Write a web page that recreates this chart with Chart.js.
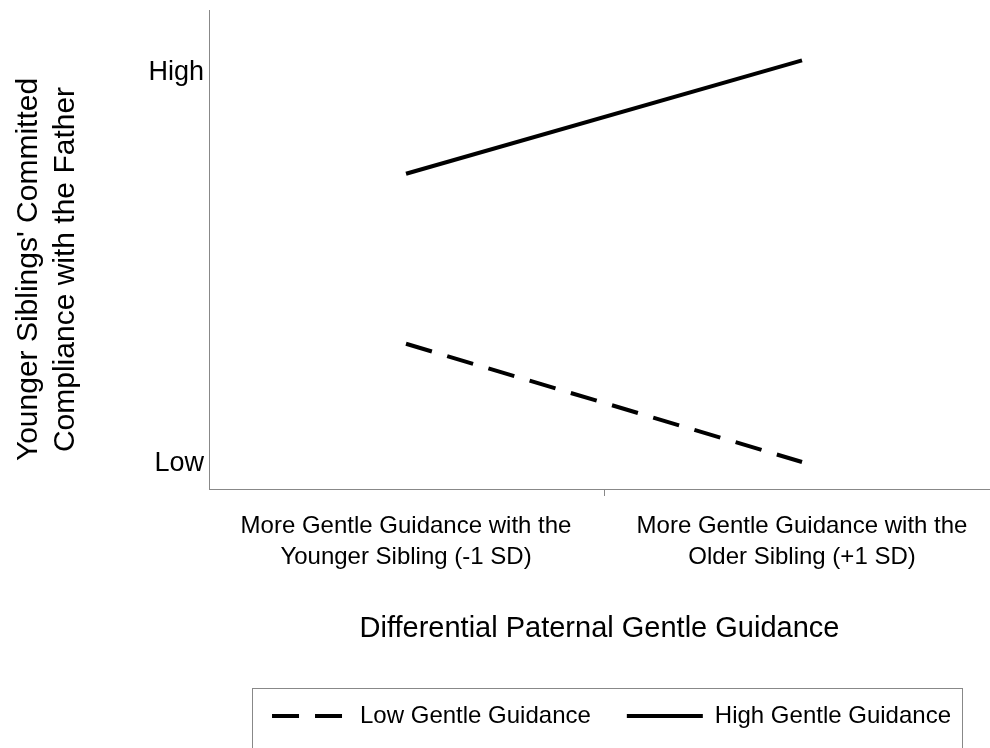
<!DOCTYPE html>
<html>
<head>
<meta charset="utf-8">
<script src="https://cdn.jsdelivr.net/npm/chart.js@4.4.0/dist/chart.umd.min.js"></script>
<style>
html, body { margin: 0; padding: 0; background: #fff; }
#wrap { width: 990px; height: 748px; }
</style>
</head>
<body>
<div id="wrap"><canvas id="myChart"></canvas></div>
<script>
const groupLabels = [
	['More Gentle Guidance with the', 'Younger Sibling (-1 SD)'],
	['More Gentle Guidance with the', 'Older Sibling (+1 SD)']
];
const seriesNames = ['Low Gentle Guidance', 'High Gentle Guidance'];
const lowGuidance = [2.23, 1.02];
const highGuidance = [3.97, 5.13];
const levelTicks = [1, 5];
const levelNames = ['Low', 'High'];
const xTitle = 'Differential Paternal Gentle Guidance';
const yTitle = ["Younger Siblings' Committed", 'Compliance with the Father'];

const axisGray = '#888888';
Chart.defaults.font.family = 'Arial, "Liberation Sans", sans-serif';
Chart.defaults.color = '#000';

function toPoints(values) {
	return values.map((v, i) => ({ x: i, y: v }));
}

// rotated two-line y title, centred a bit below the axis middle like the original
const yTitlePlugin = {
	id: 'yTitle',
	afterDraw(chart) {
		const ctx = chart.ctx;
		const cy = (chart.chartArea.top + chart.chartArea.bottom) / 2 + 20;
		const baselines = [37, 74];
		ctx.save();
		ctx.fillStyle = '#000';
		ctx.font = '30px Arial, "Liberation Sans", sans-serif';
		ctx.textAlign = 'center';
		ctx.textBaseline = 'alphabetic';
		yTitle.forEach((line, i) => {
			ctx.save();
			ctx.translate(baselines[i], cy);
			ctx.rotate(-Math.PI / 2);
			ctx.fillText(line, 0, 0);
			ctx.restore();
		});
		ctx.restore();
	}
};

// frame round the legend, legend nudged right a little
const legendFrame = {
	id: 'legendFrame',
	afterLayout(chart) {
		if (chart.legend) {
			chart.legend.left += 12;
			chart.legend.right += 12;
		}
	},
	afterDraw(chart) {
		const lg = chart.legend;
		if (!lg || !lg.legendHitBoxes.length) return;
		const first = lg.legendHitBoxes[0];
		const last = lg.legendHitBoxes[lg.legendHitBoxes.length - 1];
		const left = Math.round(first.left - 20) + 0.5;
		const right = Math.round(last.left + last.width + 11) + 0.5;
		const top = Math.round(lg.top + 20) + 0.5;
		const ctx = chart.ctx;
		ctx.save();
		ctx.strokeStyle = axisGray;
		ctx.lineWidth = 1;
		ctx.strokeRect(left, top, right - left, 200);
		ctx.restore();
	}
};

const myChart = new Chart(document.getElementById('myChart').getContext('2d'), {
	type: 'line',
	data: {
		datasets: [{
			label: seriesNames[0],
			data: toPoints(lowGuidance),
			borderColor: '#000',
			backgroundColor: '#000',
			borderWidth: 4,
			borderDash: [27, 16],
			pointRadius: 0,
			fill: false
		}, {
			label: seriesNames[1],
			data: toPoints(highGuidance),
			borderColor: '#000',
			backgroundColor: '#000',
			borderWidth: 4,
			pointRadius: 0,
			fill: false
		}]
	},
	options: {
		responsive: true,
		maintainAspectRatio: false,
		animation: false,
		layout: { padding: { top: 10, bottom: 10, left: 0, right: 0 } },
		plugins: {
			tooltip: { enabled: false },
			legend: {
				position: 'bottom',
				fullSize: false,
				labels: {
					usePointStyle: true,
					pointStyle: 'line',
					pointStyleWidth: 76,
					padding: 36,
					color: '#000',
					font: { size: 24 },
					generateLabels: (chart) => {
						const items = Chart.defaults.plugins.legend.labels.generateLabels(chart);
						items.forEach((item) => {
							const ds = chart.data.datasets[item.datasetIndex];
							item.lineDash = ds.borderDash || [];
							item.lineWidth = ds.borderWidth;
							item.strokeStyle = ds.borderColor;
						});
						return items;
					}
				}
			}
		},
		scales: {
			x: {
				type: 'linear',
				min: -0.4975,
				max: 1.4747,
				afterBuildTicks: (scale) => {
					scale.ticks = [{ value: 0 }, { value: 0.5 }, { value: 1 }];
				},
				afterFit: (scale) => { scale.height = 179; },
				ticks: {
					autoSkip: false,
					maxRotation: 0,
					minRotation: 0,
					padding: 15,
					color: '#000',
					font: { size: 24, lineHeight: 1.3 },
					callback: (value) => {
						const i = groupLabels.findIndex((_, k) => k === value);
						return i >= 0 ? groupLabels[i] : '';
					}
				},
				grid: {
					display: true,
					drawOnChartArea: false,
					drawTicks: true,
					tickLength: 7,
					lineWidth: 1,
					tickColor: (ctx) => (ctx.tick && ctx.tick.value === 0.5 ? axisGray : 'rgba(0,0,0,0)')
				},
				border: { display: true, color: axisGray, width: 1 },
				title: {
					display: true,
					text: xTitle,
					color: '#000',
					font: { size: 29, lineHeight: 1.2 },
					padding: { top: 0, bottom: 22 }
				}
			},
			y: {
				type: 'linear',
				min: 0.744,
				max: 5.645,
				afterBuildTicks: (scale) => {
					scale.ticks = levelTicks.map((v) => ({ value: v }));
				},
				afterFit: (scale) => {
					scale.width = 209;
					scale.paddingTop = 0;
					scale.paddingBottom = 0;
				},
				ticks: {
					padding: 5,
					color: '#000',
					font: { size: 27 },
					callback: (value) => {
						const i = levelTicks.indexOf(value);
						return i >= 0 ? levelNames[i] : '';
					}
				},
				grid: { display: false, drawTicks: false },
				border: { display: true, color: axisGray, width: 1 }
			}
		}
	},
	plugins: [yTitlePlugin, legendFrame]
});
</script>
</body>
</html>
